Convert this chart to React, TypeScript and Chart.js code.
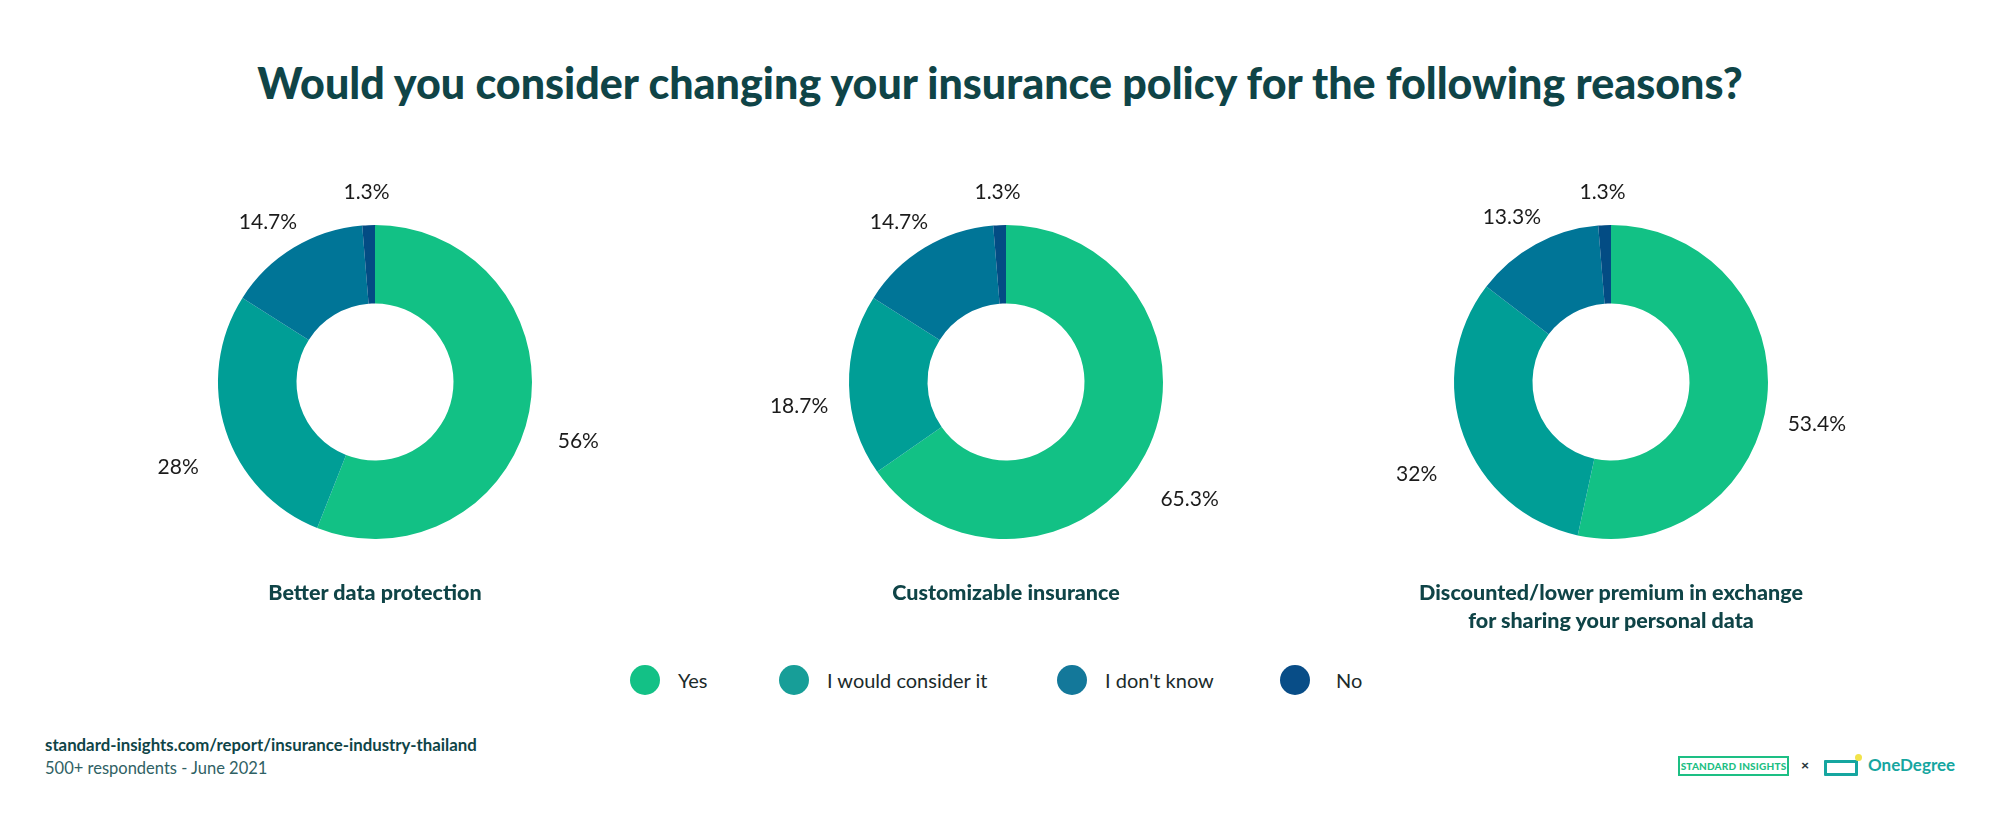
import React, { useEffect, useRef } from 'react';
import { Chart, registerables } from 'chart.js';

Chart.register(...registerables);

const categories = ['Yes', 'I would consider it', "I don't know", 'No'];
const seriesColors = ['#12C185', '#009E96', '#007597', '#034C84'];
const legendColors = ['#13C186', '#179E98', '#13789A', '#084D87'];

const betterDataProtection = [56, 28, 14.7, 1.3];
const customizableInsurance = [65.3, 18.7, 14.7, 1.3];
const discountedPremium = [53.4, 32, 13.3, 1.3];

const chartNames = [
  ['Better data protection'],
  ['Customizable insurance'],
  ['Discounted/lower premium in exchange', 'for sharing your personal data'],
];

const titleText = 'Would you consider changing your insurance policy for the following reasons?';
const sourceText = 'standard-insights.com/report/insurance-industry-thailand';
const noteText = '500+ respondents - June 2021';

const FONT = 'Lato, "Open Sans", sans-serif';
const DARK = '#0F4447';

const CW = 600;
const CH = 480;

const pctLabelPlugin = {
  id: 'pctLabels',
  afterDatasetsDraw(chart: any) {
    const ctx = chart.ctx;
    const meta = chart.getDatasetMeta(0);
    const values = chart.data.datasets[0].data;
    ctx.save();
    ctx.font = `21px ${FONT}`;
    ctx.fillStyle = '#1b1b1b';
    ctx.textAlign = 'center';
    ctx.textBaseline = 'middle';
    meta.data.forEach((arc: any, i: number) => {
      const p = arc.getProps(['x', 'y', 'startAngle', 'endAngle'], true);
      const mid = (p.startAngle + p.endAngle) / 2;
      const lx = p.x + Math.cos(mid) * 207;
      const ly = p.y + Math.sin(mid) * 210 + 20;
      ctx.fillText(`${values[i]}%`, lx, ly);
    });
    ctx.restore();
  },
};

function Donut({ values, cx, cy }: { values: number[]; cx: number; cy: number }) {
  const ref = useRef<HTMLCanvasElement | null>(null);
  useEffect(() => {
    if (!ref.current) return;
    const chart = new Chart(ref.current, {
      type: 'doughnut',
      data: {
        labels: categories,
        datasets: [
          {
            data: values,
            backgroundColor: seriesColors,
            borderWidth: 0,
          },
        ],
      },
      options: {
        animation: false,
        responsive: false,
        maintainAspectRatio: false,
        radius: 157,
        cutout: '50%',
        layout: { padding: 0 },
        plugins: {
          legend: { display: false },
          tooltip: { enabled: false },
          title: { display: false },
        },
      } as any,
      plugins: [pctLabelPlugin],
    });
    return () => chart.destroy();
  }, [values]);
  return (
    <canvas
      ref={ref}
      width={CW}
      height={CH}
      style={{ position: 'absolute', left: cx - CW / 2, top: cy - CH / 2, width: CW, height: CH }}
    />
  );
}

const donutCenters = [
  [375, 382],
  [1006, 382],
  [1611, 382],
];
const donutValues = [betterDataProtection, customizableInsurance, discountedPremium];
const legendX = [645, 794, 1072, 1295];

export default function App() {
  return (
    <div
      style={{
        position: 'absolute',
        left: 0,
        top: 0,
        width: 2000,
        height: 820,
        background: '#ffffff',
        overflow: 'hidden',
        fontFamily: FONT,
      }}
    >
      <div
        style={{
          position: 'absolute',
          left: 0,
          width: 2000,
          top: 56,
          textAlign: 'center',
          fontSize: 43,
          fontWeight: 900,
          color: DARK,
          lineHeight: '54px',
        }}
      >
        {titleText}
      </div>

      {donutValues.map((v, i) => (
        <Donut key={i} values={v} cx={donutCenters[i][0]} cy={donutCenters[i][1]} />
      ))}

      {chartNames.map((lines, i) => (
        <div
          key={i}
          style={{
            position: 'absolute',
            left: donutCenters[i][0] - 300,
            width: 600,
            top: 578,
            textAlign: 'center',
            fontSize: 21.5,
            fontWeight: 900,
            color: DARK,
            lineHeight: '28px',
          }}
        >
          {lines.map((l, j) => (
            <div key={j}>{l}</div>
          ))}
        </div>
      ))}

      {categories.map((c, i) => (
        <div
          key={c}
          style={{
            position: 'absolute',
            left: legendX[i] - 15,
            top: 665,
            height: 30,
            display: 'flex',
            alignItems: 'center',
            whiteSpace: 'nowrap',
          }}
        >
          <span
            style={{
              display: 'inline-block',
              width: 30,
              height: 30,
              borderRadius: 15,
              background: legendColors[i],
            }}
          />
          <span style={{ marginLeft: i === 3 ? 26 : 18, fontSize: 20, color: '#1b2b2b' }}>{c}</span>
        </div>
      ))}

      <div
        style={{
          position: 'absolute',
          left: 45,
          top: 733,
          fontSize: 16.8,
          fontWeight: 700,
          color: DARK,
          lineHeight: '24px',
        }}
      >
        {sourceText}
      </div>
      <div
        style={{
          position: 'absolute',
          left: 45,
          top: 756,
          fontSize: 16.5,
          fontWeight: 400,
          color: '#2f6164',
          lineHeight: '24px',
        }}
      >
        {noteText}
      </div>

      <div
        style={{
          position: 'absolute',
          left: 1678,
          top: 756,
          width: 107,
          height: 16,
          border: '2px solid #1DBF84',
          color: '#1DBF84',
          fontSize: 10,
          fontWeight: 900,
          lineHeight: '16px',
          textAlign: 'center',
          letterSpacing: 0.2,
        }}
      >
        STANDARD INSIGHTS
      </div>
      <div
        style={{
          position: 'absolute',
          left: 1801,
          top: 755,
          fontSize: 14,
          fontWeight: 900,
          color: '#2a3a40',
          lineHeight: '20px',
        }}
      >
        ×
      </div>
      <div
        style={{
          position: 'absolute',
          left: 1824,
          top: 760,
          width: 28,
          height: 10,
          border: '3px solid #16A6A0',
          borderRadius: 1,
        }}
      />
      <div
        style={{
          position: 'absolute',
          left: 1855,
          top: 754,
          width: 7,
          height: 7,
          borderRadius: 4,
          background: '#F2E34A',
        }}
      />
      <div
        style={{
          position: 'absolute',
          left: 1868,
          top: 754,
          fontSize: 17,
          fontWeight: 700,
          color: '#16A6A0',
          lineHeight: '22px',
        }}
      >
        OneDegree
      </div>
    </div>
  );
}
